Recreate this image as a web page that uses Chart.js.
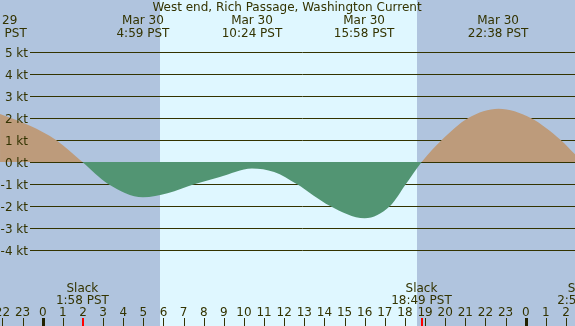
<!DOCTYPE html>
<html><head><meta charset="utf-8">
<script src="https://cdn.jsdelivr.net/npm/chart.js@4/dist/chart.umd.min.js"></script>
<style>html,body{margin:0;padding:0;background:#b0c4de;overflow:hidden}#wrap{width:575px;height:326px;position:relative}canvas{display:block}</style>
</head><body><div id="wrap"><canvas id="c" width="575" height="326"></canvas></div>
<script>
const chartTitle = 'West end, Rich Passage, Washington Current';
// current speed (kt) vs hours since midnight Mar 30 (PST)
const hours = [-2.12, -0.63, 0.66, 1.97, 3.25, 4.98, 6.2, 7.57, 8.8, 10.4, 11.5, 12.62, 14.28, 16.0, 17.26, 18.05, 18.83, 19.83, 21.15, 22.65, 24.25, 25.74, 26.45];
const knots = [2.18, 1.65, 1.0, 0, -1.0, -1.6, -1.42, -1.0, -0.68, -0.29, -0.45, -1.0, -2.0, -2.56, -2.0, -1.0, 0, 1.0, 2.0, 2.42, 2.0, 1.0, 0.35];
// y-axis tick labels
const yTicks = [5, 4, 3, 2, 1, 0, -1, -2, -3, -4];
const yTickLabels = ['5 kt', '4 kt', '3 kt', '2 kt', '1 kt', '0 kt', '-1 kt', '-2 kt', '-3 kt', '-4 kt'];
// hour ticks
const hourTicks = [-2,-1,0,1,2,3,4,5,6,7,8,9,10,11,12,13,14,15,16,17,18,19,20,21,22,23,24,25,26];
const hourLabels = ['22','23','0','1','2','3','4','5','6','7','8','9','10','11','12','13','14','15','16','17','18','19','20','21','22','23','0','1','2'];
const midnights = [0, 24];
// max / min current events
const eventHours = [-2.3, 4.98, 10.4, 15.97, 22.63];
const eventDates = ['Mar 29', 'Mar 30', 'Mar 30', 'Mar 30', 'Mar 30'];
const eventTimes = ['21:42 PST', '4:59 PST', '10:24 PST', '15:58 PST', '22:38 PST'];
// slack events
const slackHours = [1.97, 18.82, 26.88];
const slackTimes = ['1:58 PST', '18:49 PST', '2:53 PST'];
// daylight
const sunrise = 5.83, sunset = 18.6;

const DARK = '#b0c4de', LIGHT = '#dff7ff', FLOOD = '#bd9b7b', EBB = '#529573', INK = '#333300';
const FONT = '12px "DejaVu Sans"';

const deco = {
  id: 'deco',
  beforeDraw(chart) {
    const ctx = chart.ctx, xs = chart.scales.x;
    ctx.save();
    ctx.fillStyle = DARK;
    ctx.fillRect(0, 0, chart.width, chart.height);
    const a = Math.round(xs.getPixelForValue(sunrise)), b = Math.round(xs.getPixelForValue(sunset));
    ctx.fillStyle = LIGHT;
    ctx.fillRect(a, 0, b - a, chart.height);
    ctx.restore();
  },
  beforeDatasetsDraw(chart) {
    const ctx = chart.ctx, ys = chart.scales.y;
    ctx.save();
    ctx.strokeStyle = INK; ctx.lineWidth = 1;
    yTicks.forEach(v => {
      const y = Math.round(ys.getPixelForValue(v)) + 0.5;
      ctx.beginPath(); ctx.moveTo(30, y); ctx.lineTo(chart.width, y); ctx.stroke();
    });
    ctx.restore();
  },
  afterDatasetsDraw(chart) {
    const ctx = chart.ctx, xs = chart.scales.x, ys = chart.scales.y;
    ctx.save();
    ctx.font = FONT; ctx.fillStyle = INK; ctx.textBaseline = 'alphabetic';
    // y labels
    ctx.textAlign = 'right';
    yTicks.forEach((v, i) => {
      const y = Math.round(ys.getPixelForValue(v));
      ctx.fillText(yTickLabels[i], 28, y + 5);
    });
    // title
    ctx.textAlign = 'center';
    ctx.fillText(chartTitle, 287, 11);
    // events
    eventHours.forEach((h, i) => {
      const x = xs.getPixelForValue(h);
      ctx.fillText(eventDates[i], x, 24);
      ctx.fillText(eventTimes[i], x, 37);
    });
    // slack labels
    slackHours.forEach((h, i) => {
      const x = xs.getPixelForValue(h);
      ctx.fillText('Slack', x, 292);
      ctx.fillText(slackTimes[i], x, 304);
    });
    // hour labels and ticks
    hourTicks.forEach((h, i) => {
      const x = xs.getPixelForValue(h);
      ctx.fillStyle = INK;
      ctx.fillText(hourLabels[i], x, 316);
      ctx.fillRect(Math.round(x), 318, 1, 8);
    });
    midnights.forEach(h => {
      const x = Math.round(xs.getPixelForValue(h));
      ctx.fillStyle = '#222200';
      ctx.fillRect(x - 1, 318, 3, 8);
    });
    slackHours.forEach(h => {
      const x = Math.round(xs.getPixelForValue(h));
      ctx.fillStyle = '#ff0000';
      ctx.fillRect(x, 318, 2, 8);
    });
    ctx.restore();
  }
};

new Chart(document.getElementById('c'), {
  type: 'line',
  data: {
    datasets: [{
      data: hours.map((h, i) => ({ x: h, y: knots[i] })),
      borderWidth: 0,
      borderColor: 'rgba(0,0,0,0)',
      pointRadius: 0,
      cubicInterpolationMode: 'monotone',
      fill: { target: 'origin', above: FLOOD, below: EBB }
    }]
  },
  options: {
    responsive: false,
    devicePixelRatio: 1,
    animation: false,
    layout: { padding: 0 },
    plugins: { legend: { display: false }, tooltip: { enabled: false }, title: { display: false } },
    scales: {
      x: { type: 'linear', min: -2.122, max: 26.45, display: false },
      y: { type: 'linear', min: -7.4545, max: 7.3636, display: false }
    }
  },
  plugins: [deco]
});
</script>
</body></html>
